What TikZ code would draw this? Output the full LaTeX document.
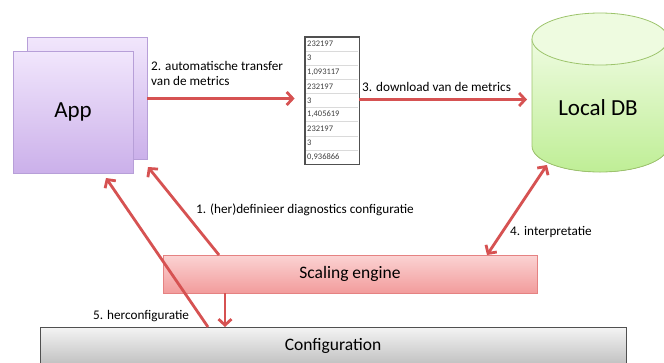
\documentclass[tikz,border=0pt]{standalone}
\usepackage{fontspec}
\setmainfont{Carlito}
\usetikzlibrary{arrows.meta}
\definecolor{arrowred}{HTML}{D65252}
\definecolor{apptop}{HTML}{F1E6FC}
\definecolor{appbot}{HTML}{CBB0EA}
\definecolor{appline}{HTML}{B79FD8}
\definecolor{setop}{HTML}{FBD3D3}
\definecolor{sebot}{HTML}{F29C9C}
\definecolor{seline}{HTML}{E58282}
\definecolor{cftop}{HTML}{F4F4F4}
\definecolor{cfbot}{HTML}{B5B5B5}
\definecolor{cfline}{HTML}{505050}
\definecolor{dbtop}{HTML}{EEFBE0}
\definecolor{dbbot}{HTML}{BFEE96}
\definecolor{dbline}{HTML}{9DC46C}
\definecolor{celltext}{HTML}{404040}
\definecolor{cellline}{HTML}{DADADA}
\begin{document}
\begin{tikzpicture}[x=1pt,y=-1pt,
  appbox/.style={draw=appline, line width=0.8pt, top color=apptop, bottom color=appbot,
    minimum width=120pt, minimum height=122pt, font=\fontsize{23}{27}\selectfont},
  sebox/.style={draw=seline, line width=0.8pt, top color=setop, bottom color=sebot,
    minimum width=374pt, minimum height=38pt, font=\fontsize{17.5}{21}\selectfont},
  cfbox/.style={draw=cfline, line width=0.8pt, top color=cftop, bottom color=cfbot,
    minimum width=586pt, minimum height=46pt},
  tablebox/.style={draw=cfline, line width=0.8pt, fill=white, minimum width=54pt, minimum height=127pt},
  cell/.style={anchor=west, inner sep=0pt, text=celltext, font=\fontsize{8.5}{10}\selectfont},
  lbl/.style={anchor=west, inner sep=0pt, font=\fontsize{13.2}{15.5}\selectfont, align=left},
  arr/.style={draw=arrowred, line width=2.8pt, -{Straight Barb[length=6pt,width=13pt]}},
  darr/.style={draw=arrowred, line width=2.8pt, {Straight Barb[length=6pt,width=13pt]}-{Straight Barb[length=6pt,width=13pt]}}
]
\useasboundingbox (0,0) rectangle (664,362);

% App boxes
\node[appbox] (appback) at (87,98.5) {};
\node[appbox] (app) at (73,112) {App};

% metrics table
\node[tablebox] (table) at (332,100.5) {};
\foreach \v [count=\i] in {232197,3,{1,093117},232197,3,{1,405619},232197,3,{0,936866}} {
  \node[cell] (c\i) at (307,{37+14.11*(\i-0.5)}) {\v};
}
\foreach \i in {1,...,8} {
  \draw[cellline, line width=0.5pt] (306,{37+14.11*\i}) -- (358,{37+14.11*\i});
}
\draw[cfline, line width=0.8pt] (table.north west) rectangle (table.south east);

% Local DB cylinder
\fill[top color=dbtop, bottom color=dbbot]
  (532,39) -- (532,146)
  .. controls (532,160.4) and (562.4,172) .. (600,172)
  .. controls (637.6,172) and (668,160.4) .. (668,146)
  -- (668,39) -- cycle;
\draw[dbline, line width=0.8pt]
  (532,39) -- (532,146)
  .. controls (532,160.4) and (562.4,172) .. (600,172)
  .. controls (637.6,172) and (668,160.4) .. (668,146)
  -- (668,39);
\draw[dbline, line width=0.8pt, fill=dbtop] (600,39) ellipse [x radius=68pt, y radius=26pt];
\node[font=\fontsize{23}{27}\selectfont] (db) at (598,108) {Local DB};

% Scaling engine and configuration
\node[sebox] (se) at (350,274) {Scaling engine};
\node[cfbox] (cf) at (333,350) {};
\node[font=\fontsize{17.5}{21}\selectfont] (cftext) at (333,346) {Configuration};

% connector end points
\coordinate (dbin) at (527,99.5);
\coordinate (dbbottom) at (547,165);
\coordinate (se4) at (487,255);
\coordinate (se1) at (219,255);
\coordinate (app1) at (148,167);
\coordinate (cf5) at (208,327);
\coordinate (app5) at (106,178);
\coordinate (sebot) at (225,293);
\coordinate (cftop) at (225,327);

% connectors
\draw[arr, shorten >=10pt] (appback.east) -- (appback.east -| table.west);
\draw[arr] (table.east |- dbin) -- (dbin);
\draw[darr] (dbbottom) -- (se4);
\draw[arr] (se1) -- (app1);
\draw[arr] (cf5) -- (app5);
\draw[arr] (sebot) -- (cftop);

% labels
\node[lbl, anchor=north west] (l2) at (151,61) {2. automatische transfer\\van de metrics};
\node[lbl] (l3) at (362,87) {3. download van de metrics};
\node[lbl] (l1) at (196,210) {1. (her)definieer diagnostics configuratie};
\node[lbl] (l4) at (510,232) {4. interpretatie};
\node[lbl] (l5) at (93,316) {5. herconfiguratie};
\end{tikzpicture}
\end{document}
